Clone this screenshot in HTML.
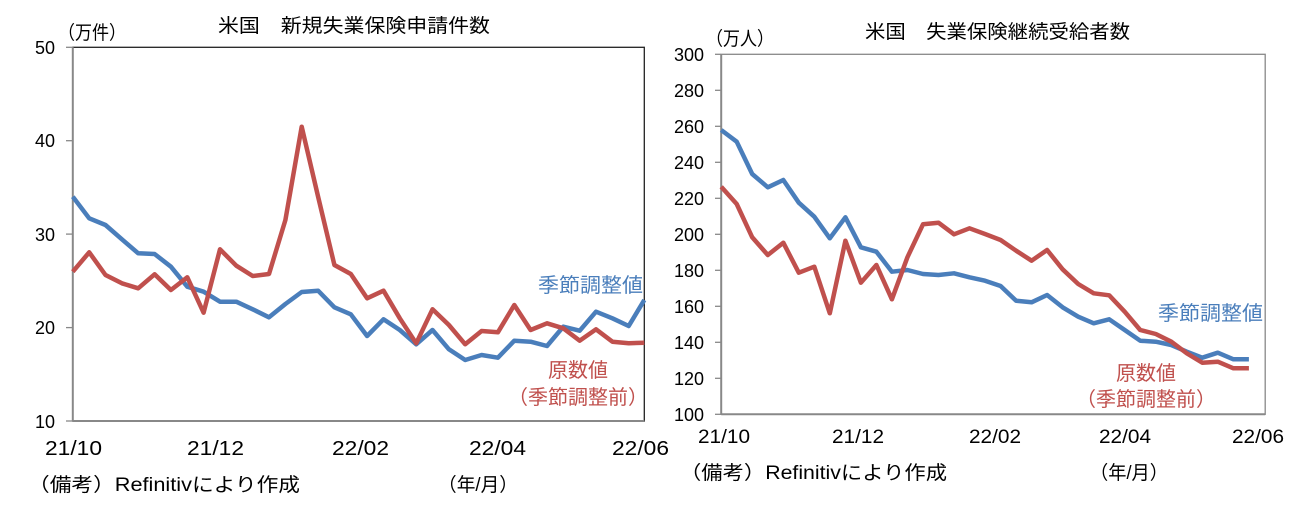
<!DOCTYPE html>
<html><head><meta charset="utf-8"><style>
html,body{margin:0;padding:0;background:#fff;}
svg{display:block;}
text{font-family:"Liberation Sans","Noto Sans CJK JP",sans-serif;fill:#000;}
</style></head><body>
<svg width="1305" height="509" viewBox="0 0 1305 509" xmlns="http://www.w3.org/2000/svg">
<!-- LEFT CHART -->
<text x="218" y="32" font-size="19" textLength="272" lengthAdjust="spacingAndGlyphs">米国　新規失業保険申請件数</text>
<text x="58" y="39" font-size="19" textLength="68" lengthAdjust="spacingAndGlyphs">（万件）</text>
<rect x="72.8" y="47.3" width="571.5" height="373.7" fill="none" stroke="#222" stroke-width="1.3"/>
<line x1="72.8" y1="47.3" x2="72.8" y2="421" stroke="#888" stroke-width="2"/>
<line x1="72.8" y1="421" x2="644.3" y2="421" stroke="#888" stroke-width="2"/>
<g stroke="#888" stroke-width="1.3">
<line x1="66" y1="47.3" x2="72.8" y2="47.3"/><line x1="66" y1="140.7" x2="72.8" y2="140.7"/><line x1="66" y1="234.1" x2="72.8" y2="234.1"/><line x1="66" y1="327.6" x2="72.8" y2="327.6"/><line x1="66" y1="421" x2="72.8" y2="421"/>
</g>
<g font-size="18" text-anchor="end">
<text x="55" y="54">50</text><text x="55" y="147">40</text><text x="55" y="241">30</text><text x="55" y="334">20</text><text x="55" y="428">10</text>
</g>
<g font-size="20">
<text x="45" y="455" textLength="57" lengthAdjust="spacingAndGlyphs">21/10</text><text x="187" y="455" textLength="57" lengthAdjust="spacingAndGlyphs">21/12</text><text x="332" y="455" textLength="57" lengthAdjust="spacingAndGlyphs">22/02</text><text x="469" y="455" textLength="57" lengthAdjust="spacingAndGlyphs">22/04</text><text x="612" y="455" textLength="57" lengthAdjust="spacingAndGlyphs">22/06</text>
</g>
<text x="28" y="491" font-size="19" textLength="272" lengthAdjust="spacingAndGlyphs">（備考）Refinitivにより作成</text>
<text x="438" y="491" font-size="19" textLength="80" lengthAdjust="spacingAndGlyphs">（年/月）</text>
<polyline fill="none" stroke="#4a7ebb" stroke-width="4.5" stroke-linejoin="round" points="72.8,196.7 89.2,218.3 105.5,225 121.9,239.3 138.2,253.3 154.6,254 170.9,266.7 187.3,286.7 203.6,291.7 220,301.7 236.3,301.7 252.7,309.3 269,317.3 285.4,304 301.7,292 318.1,290.7 334.4,307.3 350.8,314.3 367.1,336 383.5,319.3 399.8,330 416.2,344.3 432.5,330 448.9,349.3 465.2,360 481.6,355 497.9,357.7 514.3,340.7 530.6,341.7 547,346 563.3,326.7 579.7,330.7 596,311.7 612.4,318.3 628.7,326 644.3,300"/>
<polyline fill="none" stroke="#c0504d" stroke-width="4.5" stroke-linejoin="round" points="72.8,271.7 89.2,252.3 105.5,275 121.9,283.3 138.2,288.3 154.6,274.3 170.9,290 187.3,277.3 203.6,312.7 220,249.3 236.3,265.7 252.7,276 269,274 285.4,220 301.7,126.7 318.1,196.7 334.4,265 350.8,274 367.1,298.3 383.5,290.7 399.8,318.3 416.2,343.3 432.5,309.3 448.9,325 465.2,344.3 481.6,331 497.9,332.3 514.3,305 530.6,330 547,323.3 563.3,328.3 579.7,340.7 596,329.3 612.4,341.7 628.7,343.3 644.3,342.7"/>
<text x="538" y="292" font-size="20" textLength="105" lengthAdjust="spacingAndGlyphs" style="fill:#4a7ebb">季節調整値</text>
<text x="578" y="377" font-size="20" text-anchor="middle" style="fill:#c0504d">原数値</text>
<text x="578" y="404" font-size="20" text-anchor="middle" style="fill:#c0504d">（季節調整前）</text>

<!-- RIGHT CHART -->
<text x="865" y="38" font-size="19" textLength="265" lengthAdjust="spacingAndGlyphs">米国　失業保険継続受給者数</text>
<text x="706" y="45" font-size="19" textLength="68" lengthAdjust="spacingAndGlyphs">（万人）</text>
<rect x="721.2" y="54.3" width="544" height="360" fill="none" stroke="#888" stroke-width="1.3"/>
<line x1="721.2" y1="54.3" x2="721.2" y2="414.3" stroke="#888" stroke-width="2"/>
<line x1="721.2" y1="414.3" x2="1265.2" y2="414.3" stroke="#888" stroke-width="2"/>
<g stroke="#888" stroke-width="1.3">
<line x1="715" y1="54.3" x2="721" y2="54.3"/><line x1="715" y1="90.3" x2="721" y2="90.3"/><line x1="715" y1="126.3" x2="721" y2="126.3"/><line x1="715" y1="162.3" x2="721" y2="162.3"/><line x1="715" y1="198.3" x2="721" y2="198.3"/><line x1="715" y1="234.3" x2="721" y2="234.3"/><line x1="715" y1="270.3" x2="721" y2="270.3"/><line x1="715" y1="306.3" x2="721" y2="306.3"/><line x1="715" y1="342.3" x2="721" y2="342.3"/><line x1="715" y1="378.3" x2="721" y2="378.3"/><line x1="715" y1="414.3" x2="721" y2="414.3"/>
</g>
<g font-size="18" text-anchor="end">
<text x="704" y="61">300</text><text x="704" y="97">280</text><text x="704" y="133">260</text><text x="704" y="169">240</text><text x="704" y="205">220</text><text x="704" y="241">200</text><text x="704" y="277">180</text><text x="704" y="313">160</text><text x="704" y="349">140</text><text x="704" y="385">120</text><text x="704" y="421">100</text>
</g>
<g font-size="19">
<text x="698" y="443" textLength="52" lengthAdjust="spacingAndGlyphs">21/10</text><text x="832" y="443" textLength="52" lengthAdjust="spacingAndGlyphs">21/12</text><text x="969" y="443" textLength="52" lengthAdjust="spacingAndGlyphs">22/02</text><text x="1099" y="443" textLength="52" lengthAdjust="spacingAndGlyphs">22/04</text><text x="1232" y="443" textLength="52" lengthAdjust="spacingAndGlyphs">22/06</text>
</g>
<text x="680" y="479" font-size="19" textLength="267" lengthAdjust="spacingAndGlyphs">（備考）Refinitivにより作成</text>
<text x="1090" y="479" font-size="19" textLength="78" lengthAdjust="spacingAndGlyphs">（年/月）</text>
<polyline fill="none" stroke="#4a7ebb" stroke-width="4.5" stroke-linejoin="round" points="721.2,130 736.7,141.7 752.2,174 767.8,187.3 783.3,180 798.8,202.7 814.3,216.7 829.8,238.3 845.4,217.3 860.9,247.3 876.4,251.7 891.9,271.7 907.4,270 923,274 938.5,275 954,273.3 969.5,277.3 985,280.7 1000.6,286 1016.1,300.7 1031.6,302.3 1047.1,295 1062.6,307.3 1078.2,316.7 1093.7,323.3 1109.2,319.3 1124.7,330 1140.2,340.7 1155.8,341.7 1171.3,345 1186.8,351.7 1202.3,357.7 1217.8,352.7 1233.4,359.3 1248.9,359.3"/>
<polyline fill="none" stroke="#c0504d" stroke-width="4.5" stroke-linejoin="round" points="721.2,186.7 736.7,204 752.2,237.3 767.8,255 783.3,242.7 798.8,272.7 814.3,266.7 829.8,313.3 845.4,240.7 860.9,282.7 876.4,265 891.9,299.3 907.4,257.3 923,224.3 938.5,222.7 954,234.3 969.5,228.3 985,234 1000.6,240 1016.1,250.7 1031.6,260.7 1047.1,250 1062.6,269.3 1078.2,284 1093.7,293.3 1109.2,295.3 1124.7,311.7 1140.2,330 1155.8,334 1171.3,341.7 1186.8,353.3 1202.3,362.7 1217.8,361.7 1233.4,368.3 1248.9,368.3"/>
<text x="1158" y="320" font-size="20" textLength="105" lengthAdjust="spacingAndGlyphs" style="fill:#4a7ebb">季節調整値</text>
<text x="1146" y="380" font-size="20" text-anchor="middle" style="fill:#c0504d">原数値</text>
<text x="1146" y="406" font-size="20" text-anchor="middle" style="fill:#c0504d">（季節調整前）</text>
</svg>
</body></html>
